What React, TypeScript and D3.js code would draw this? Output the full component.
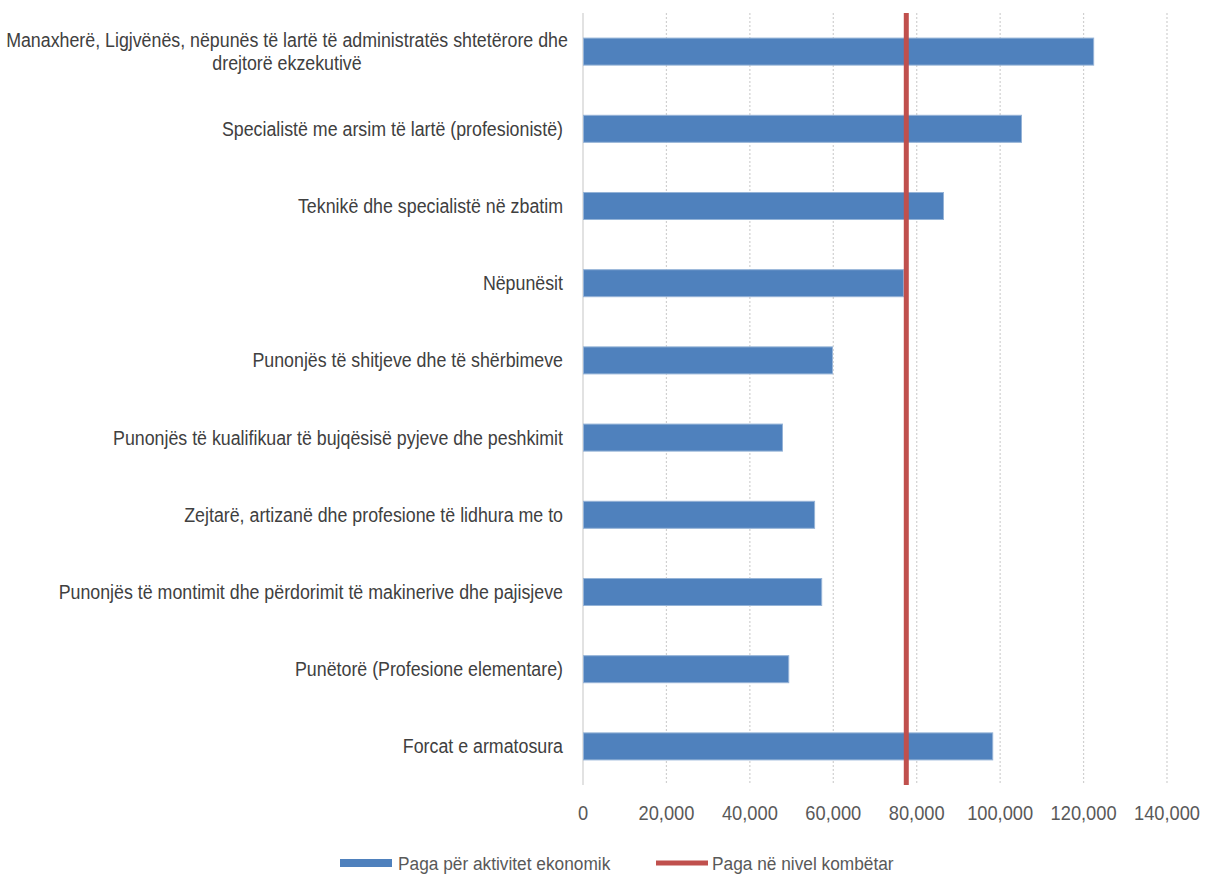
import React from 'react';
import * as d3 from 'd3';

// categories (top to bottom) and values
const categories = [
  "Manaxherë, Ligjvënës, nëpunës të lartë të administratës shtetërore dhe|drejtorë ekzekutivë",
  "Specialistë me arsim të lartë (profesionistë)",
  "Teknikë dhe specialistë në zbatim",
  "Nëpunësit",
  "Punonjës të shitjeve dhe të shërbimeve",
  "Punonjës të kualifikuar të bujqësisë pyjeve dhe peshkimit",
  "Zejtarë, artizanë dhe profesione të lidhura me to",
  "Punonjës të montimit dhe përdorimit të makinerive dhe pajisjeve",
  "Punëtorë (Profesione elementare)",
  "Forcat e armatosura",
];
const wageByActivity = [122300, 105000, 86300, 76700, 59700, 47700, 55400, 57100, 49200, 98100];
const nationalWage = 77500;
const xTicks = [0, 20000, 40000, 60000, 80000, 100000, 120000, 140000];
const legendLabels = ["Paga për aktivitet ekonomik", "Paga në nivel kombëtar"];

const W = 1205;
const H = 876;
const FONT = "'Liberation Sans', Arial, sans-serif";

export default function App() {
  const margin = { top: 13, right: 38, bottom: 91, left: 583 };
  const x = d3.scaleLinear().domain([0, 140000]).range([margin.left, W - margin.right]);
  const y = d3
    .scaleBand<number>()
    .domain(d3.range(categories.length))
    .range([margin.top, H - margin.bottom])
    .paddingInner(0.65)
    .paddingOuter(0.325);
  const fmt = d3.format(",");
  const plotTop = margin.top;
  const plotBottom = H - margin.bottom;

  return (
    <div>
      <style>{`html, body { margin: 0; padding: 0; overflow: hidden; }`}</style>
      <svg width={W} height={H} style={{ display: 'block', background: '#fff' }} fontFamily={FONT}>
        {/* gridlines */}
        {xTicks.slice(1).map(t => (
          <line key={t} x1={x(t)} x2={x(t)} y1={plotTop} y2={plotBottom}
            stroke="#d0d0d0" strokeWidth={1.2} strokeDasharray="2,2" />
        ))}
        {/* category axis */}
        <line x1={x(0)} x2={x(0)} y1={plotTop} y2={plotBottom} stroke="#d9d9d9" strokeWidth={1.5} />

        {/* bars */}
        {wageByActivity.map((v, i) => (
          <rect key={i} x={x(0) + 0.5} y={y(i)} width={x(v) - x(0)} height={y.bandwidth()}
            fill="#4f81bd" stroke="#95b3d7" strokeWidth={1} />
        ))}

        {/* national wage line */}
        <line x1={x(nationalWage)} x2={x(nationalWage)} y1={plotTop} y2={plotBottom}
          stroke="#c0504d" strokeWidth={5} />

        {/* category labels (narrowed like Arial Narrow) */}
        {categories.map((c, i) => {
          const lines = c.split('|');
          const cy = (y(i) ?? 0) + y.bandwidth() / 2;
          const lh = 23;
          const multi = lines.length > 1;
          return (
            <g key={i} transform={`translate(${multi ? 287 : 563}, ${cy - ((lines.length - 1) * lh) / 2}) scale(0.89, 1)`}>
              <text textAnchor={multi ? 'middle' : 'end'} fill="#404040" fontSize={20}>
                {lines.map((l, j) => (
                  <tspan key={j} x={0} y={j * lh} dy="0.35em">{l}</tspan>
                ))}
              </text>
            </g>
          );
        })}

        {/* x tick labels */}
        {xTicks.map(t => (
          <g key={t} transform={`translate(${x(t)}, 813) scale(0.87, 1)`}>
            <text dy="0.35em" textAnchor="middle" fill="#595959" fontSize={21}>
              {fmt(t)}
            </text>
          </g>
        ))}

        {/* legend */}
        <rect x={340} y={859} width={52} height={8} fill="#4f81bd" />
        <g transform="translate(398, 863) scale(0.91, 1)">
          <text dy="0.35em" fill="#595959" fontSize={19}>{legendLabels[0]}</text>
        </g>
        <line x1={656} x2={708} y1={863} y2={863} stroke="#c0504d" strokeWidth={5} />
        <g transform="translate(712, 863) scale(0.91, 1)">
          <text dy="0.35em" fill="#595959" fontSize={19}>{legendLabels[1]}</text>
        </g>
      </svg>
    </div>
  );
}
